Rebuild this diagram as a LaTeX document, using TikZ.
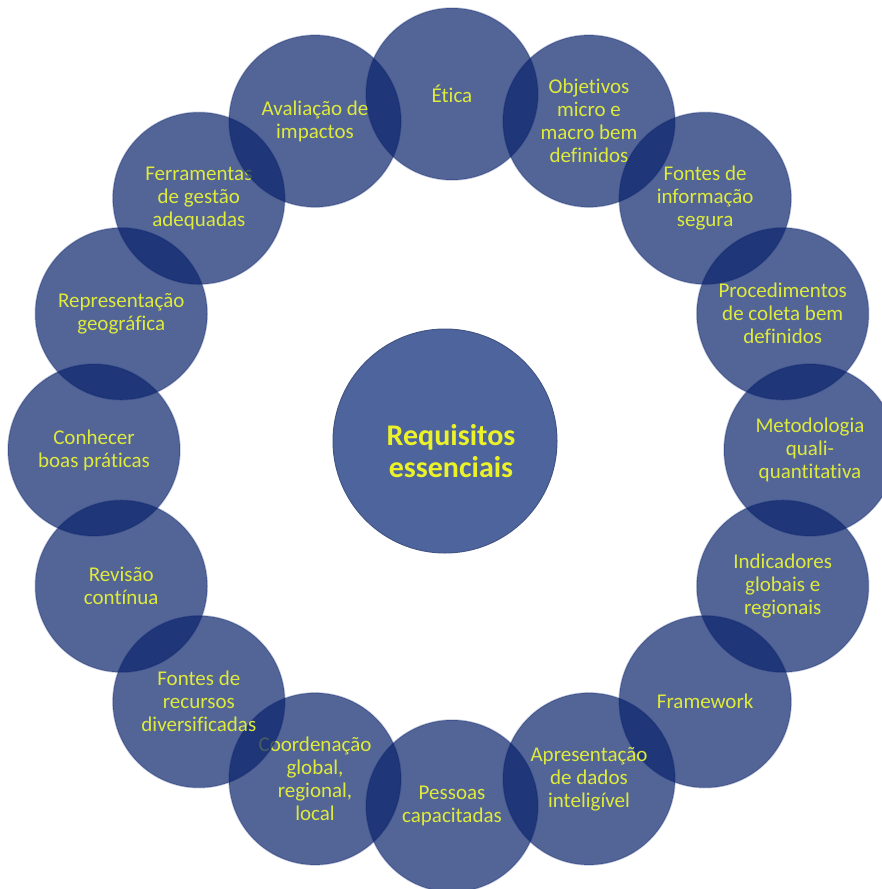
\documentclass[tikz,border=0pt]{standalone}
\usepackage{fontspec}
\setmainfont{Carlito}[Ligatures={NoCommon}]
\definecolor{ringfill}{RGB}{10,35,108}
\definecolor{ringtext}{RGB}{222,235,60}
\definecolor{hubfill}{RGB}{78,100,156}
\definecolor{hubtext}{RGB}{236,242,40}
\begin{document}
\begin{tikzpicture}[x=1pt,y=-1pt,
  ring/.style={circle, minimum size=172pt, inner sep=0pt, fill=ringfill,
    fill opacity=0.70, text opacity=1, draw=ringfill, draw opacity=0.25,
    line width=1.5pt, text=ringtext, align=center,
    font=\fontsize{21}{23}\selectfont},
  hub/.style={circle, minimum size=224pt, inner sep=0pt, fill=hubfill,
    draw=hubfill!85!black, line width=1pt},
  hublabel/.style={text=hubtext, align=center,
    font=\fontsize{30}{32}\selectfont\bfseries}]
\useasboundingbox (0,0) rectangle (881,889);
\fill[white] (0,0) rectangle (881,889);
\node[hub] (hub) at (445,441) {};
\node[hublabel] (hubtxt) at (451,451) {Requisitos\\essenciais};
\foreach \i/\a/\t in {
  1/90/{Ética},
  2/67.5/{Objetivos\\micro e\\macro bem\\definidos},
  3/45/{Fontes de\\informação\\segura},
  4/22.5/{Procedimentos\\de coleta bem\\definidos},
  5/0/{Metodologia\\quali-\\quantitativa},
  6/-22.5/{Indicadores\\globais e\\regionais},
  7/-45/{Framework},
  8/-67.5/{Apresentação\\de dados\\inteligível},
  9/-90/{Pessoas\\capacitadas},
  10/-112.5/{Coordenação\\global,\\regional,\\local},
  11/-135/{Fontes de\\recursos\\diversificadas},
  12/-157.5/{Revisão\\contínua},
  13/180/{Conhecer\\boas práticas},
  14/157.5/{Representação\\geográfica},
  15/135/{Ferramentas\\de gestão\\adequadas},
  16/112.5/{Avaliação de\\impactos}}
{
  \node[ring] (c\i) at ({452+358*cos(\a)},{450-356*sin(\a)}) {\t};
}
\end{tikzpicture}
\end{document}
